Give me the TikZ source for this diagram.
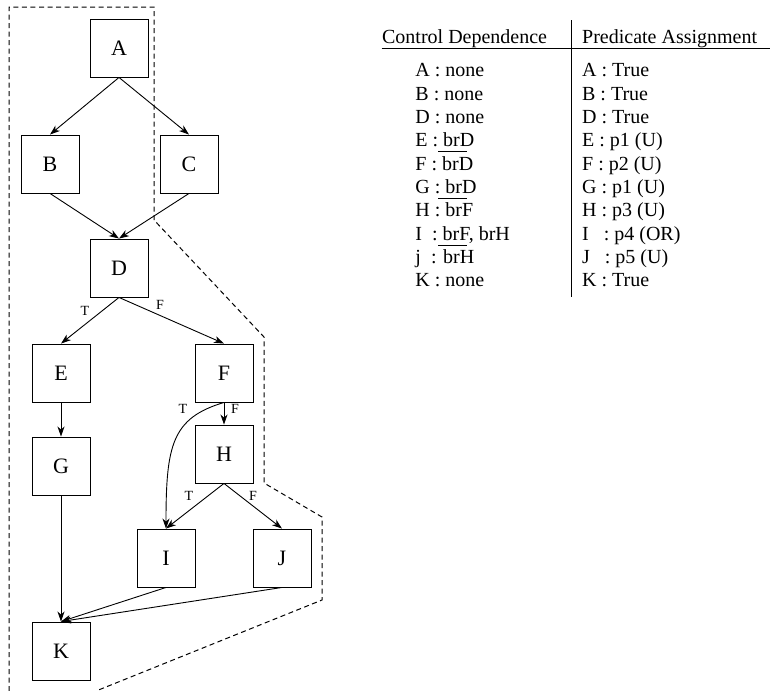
\documentclass[tikz,border=0pt]{standalone}
\usepackage{fontspec}
\setmainfont{Liberation Serif}
\usetikzlibrary{arrows.meta}

\begin{document}
\begin{tikzpicture}[x=1pt, y=-1pt, line width=0.9pt,
  blk/.style={draw, minimum size=58pt, inner sep=0pt, font=\fontsize{22}{26}\selectfont},
  flow/.style={-{Stealth[length=10pt,width=7pt,inset=3pt]}},
  lbl/.style={font=\fontsize{14}{16}\selectfont, inner sep=0pt},
  cell/.style={anchor=base west, inner sep=0pt, font=\fontsize{20}{24}\selectfont},
  rule/.style={line width=0.9pt},
  region/.style={dash pattern=on 5pt off 3.5pt, line width=1pt}]

\useasboundingbox (0,0) rectangle (772,691);

% control flow graph
\node[blk] (A) at (119,48)  {A};
\node[blk] (B) at (50,164)  {B};
\node[blk] (C) at (189,164) {C};
\node[blk] (D) at (119,268) {D};
\node[blk] (E) at (61,373)  {E};
\node[blk] (F) at (224,373) {F};
\node[blk] (G) at (61,466)  {G};
\node[blk] (H) at (224,454) {H};
\node[blk] (I) at (166,558) {I};
\node[blk] (J) at (282,558) {J};
\node[blk] (K) at (61,651)  {K};

\draw[flow] (A.south) -- (B.north);
\draw[flow] (A.south) -- (C.north);
\draw[flow] (B.south) -- (D.north);
\draw[flow] (C.south) -- (D.north);
\draw[flow] (D.south) -- (E.north);
\draw[flow] (D.south) -- (F.north);
\draw[flow] (E.south) -- (G.north);
\draw[flow] (F.south) -- (H.north);
\draw[flow] (F.south) .. controls (172,418) and (166,445) .. (I.north);
\draw[flow] (H.south) -- (I.north);
\draw[flow] (H.south) -- (J.north);
\draw[flow] (G.south) -- (K.north);
\draw[flow] (I.south) -- (K.north);
\draw[flow] (J.south) -- (K.north);

% branch labels
\node[lbl] (tD) at (85,310.7)  {T};
\node[lbl] (fD) at (160,304.7) {F};
\node[lbl] (tF) at (183,409.3) {T};
\node[lbl] (fF) at (235,409.3) {F};
\node[lbl] (tH) at (189,496)   {T};
\node[lbl] (fH) at (253,496)   {F};

% region outline
\draw[region] (9,691) -- (9,7) -- (154,7) -- (154,220) -- (264,337)
  -- (264,483) -- (322,517) -- (322,600) -- (96,691);

% table
\node[cell] (h1) at (381.7,43.3) {Control Dependence};
\node[cell] (h2) at (581.7,43.3) {Predicate Assignment};
\draw[rule] (381.7,48.3) -- (770,48.3);
\draw[rule] (571.7,20) -- (571.7,296.7);

\node[cell] (cA) at (415,76.7)  {A : none};
\node[cell] (cB) at (415,100)   {B : none};
\node[cell] (cD) at (415,123.3) {D : none};
\node[cell] (cE) at (415,146.7) {E : brD};
\node[cell] (cF) at (415,170)   {F : brD};
\node[cell] (cG) at (415,193.3) {G : brD};
\node[cell] (cH) at (415,216.7) {H : brF};
\node[cell] (cI) at (415,240)   {I\ \ : brF, brH};
\node[cell] (cJ) at (415,263.3) {j\ \ : brH};
\node[cell] (cK) at (415,286.7) {K : none};

% negation bars
\draw[rule] (438,151.7) -- (467,151.7);
\draw[rule] (438,198.3) -- (467,198.3);
\draw[rule] (438,245)   -- (467,245);

\node[cell] (pA) at (581.7,76.7)  {A : True};
\node[cell] (pB) at (581.7,100)   {B : True};
\node[cell] (pD) at (581.7,123.3) {D : True};
\node[cell] (pE) at (581.7,146.7) {E : p1 (U)};
\node[cell] (pF) at (581.7,170)   {F : p2 (U)};
\node[cell] (pG) at (581.7,193.3) {G : p1 (U)};
\node[cell] (pH) at (581.7,216.7) {H : p3 (U)};
\node[cell] (pI) at (581.7,240)   {I\ \ \ : p4 (OR)};
\node[cell] (pJ) at (581.7,263.3) {J\ \ \ : p5 (U)};
\node[cell] (pK) at (581.7,286.7) {K : True};
\end{tikzpicture}
\end{document}
